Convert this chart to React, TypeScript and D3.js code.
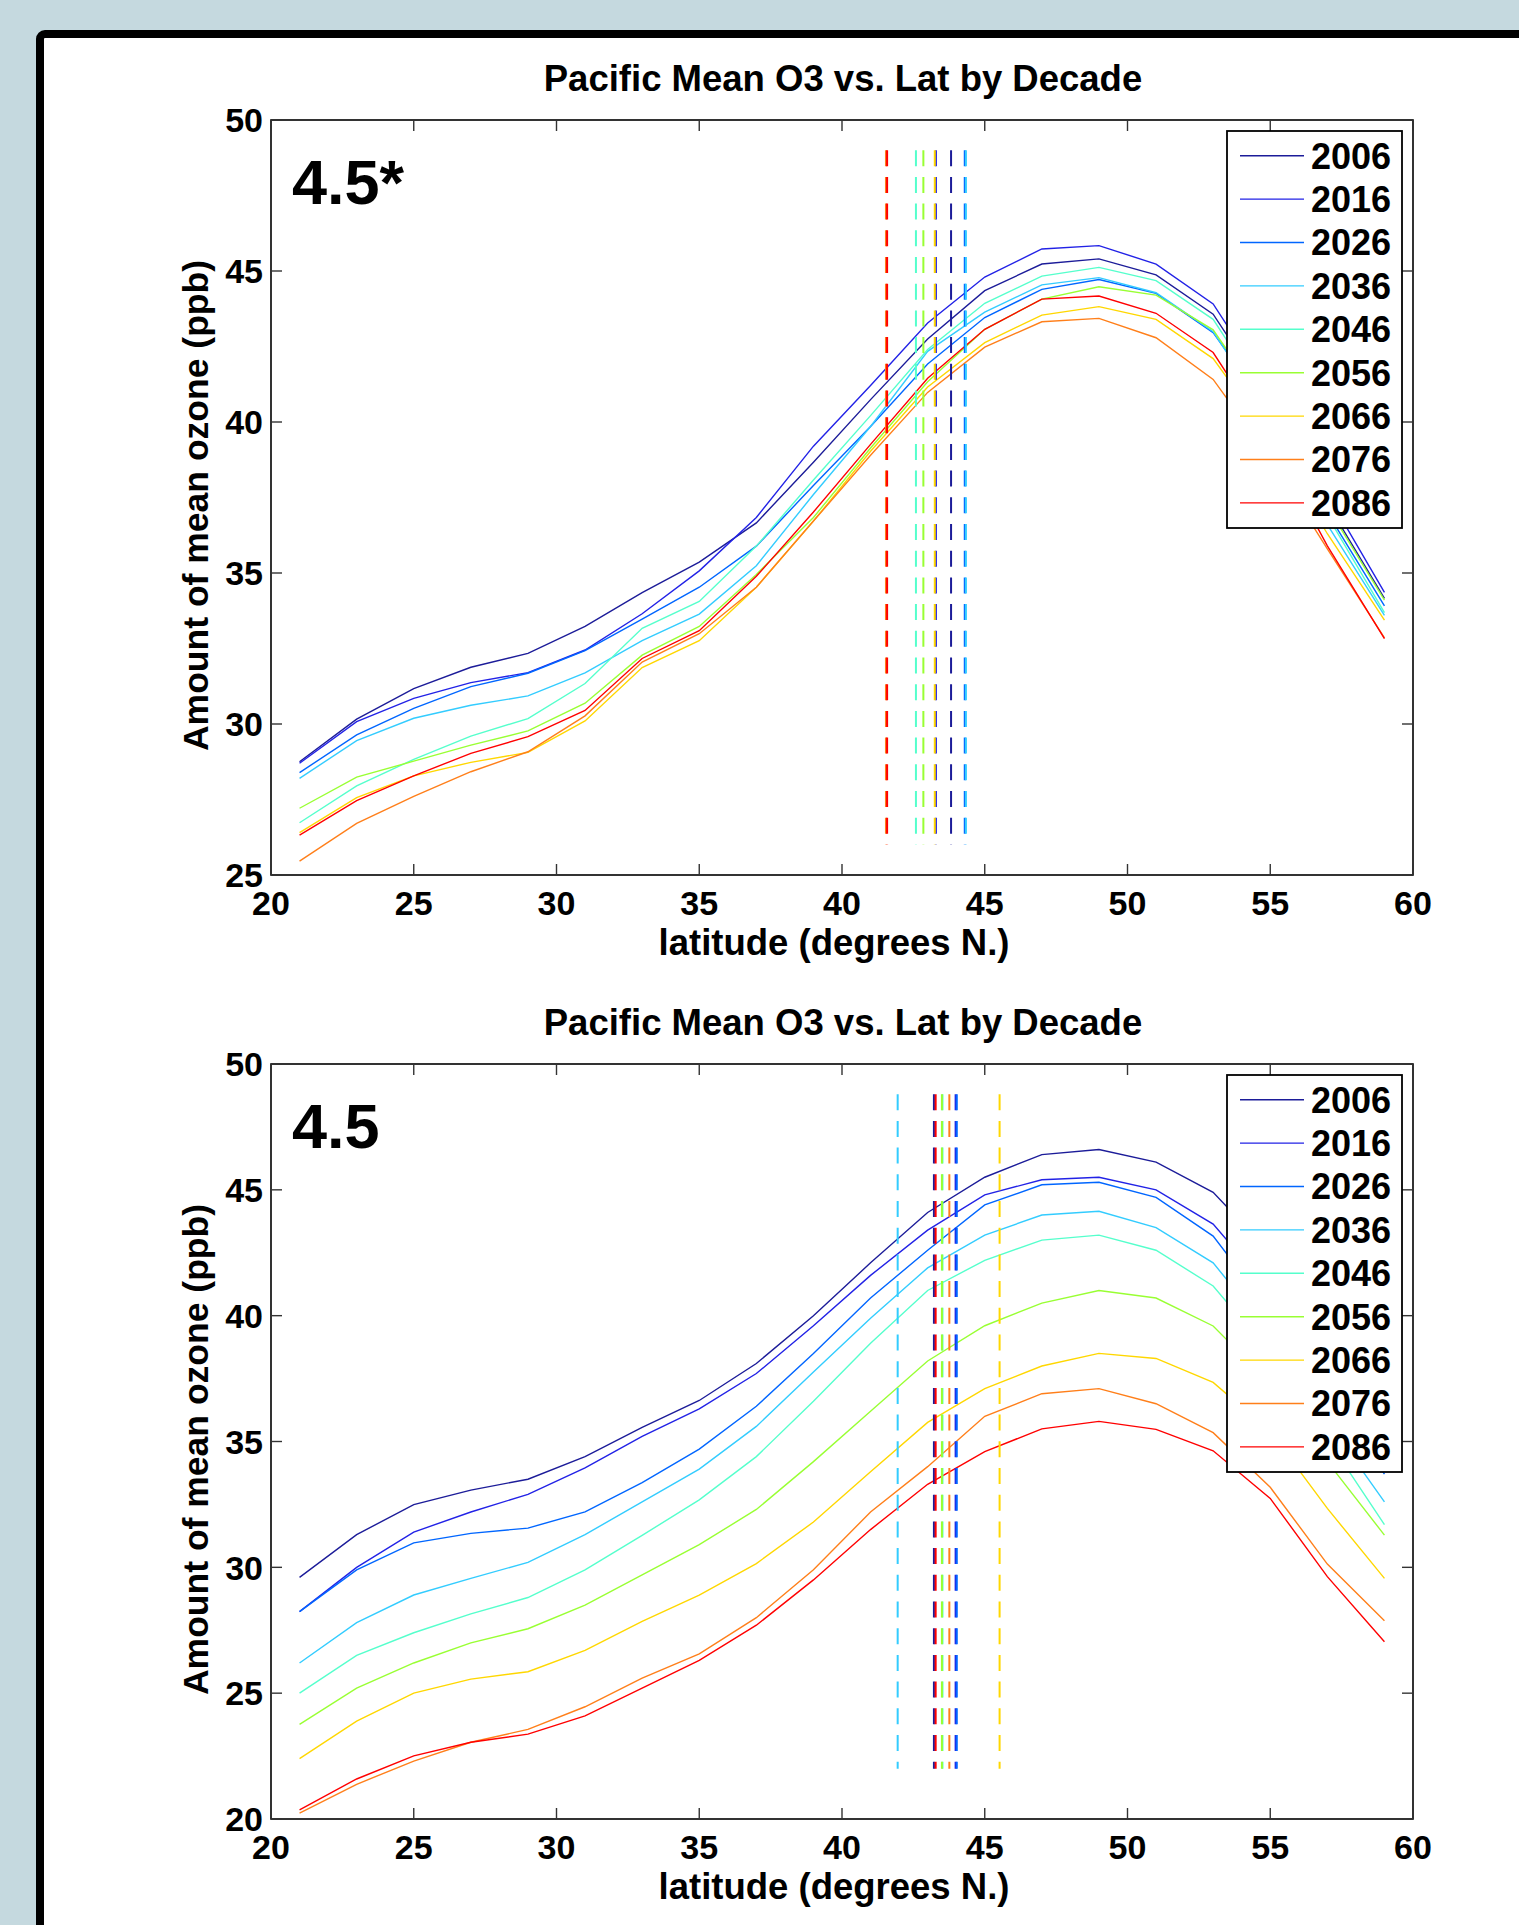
import React from 'react';
import * as d3 from 'd3';

// latitude bins (degrees N.)
const LATS = [21, 23, 25, 27, 29, 31, 33, 35, 37, 39, 41, 43, 45, 47, 49, 51, 53, 55, 57, 59];
const DECADES = ['2006', '2016', '2026', '2036', '2046', '2056', '2066', '2076', '2086'];
const COLORS = ['#1c1c99', '#2222e6', '#0066ff', '#33ccff', '#55ffcc', '#99ff33', '#ffd700', '#ff7f1a', '#ff0000'];

const X_TICKS = [20, 25, 30, 35, 40, 45, 50, 55, 60];
const TOP_Y_TICKS = [25, 30, 35, 40, 45, 50];
const BOTTOM_Y_TICKS = [20, 25, 30, 35, 40, 45, 50];

// panel 1: "4.5*"
const top2006 = [28.75, 30.16, 31.17, 31.88, 32.34, 33.23, 34.35, 35.36, 36.66, 38.67, 40.74, 42.75, 44.35, 45.23, 45.4, 44.87, 43.57, 40.7, 37.3, 34.16];
const top2016 = [28.7, 30.08, 30.85, 31.37, 31.7, 32.45, 33.65, 35.07, 36.84, 39.2, 41.21, 43.28, 44.8, 45.73, 45.84, 45.23, 43.91, 41.0, 37.6, 34.36];
const top2026 = [28.39, 29.64, 30.52, 31.24, 31.68, 32.43, 33.47, 34.53, 35.89, 37.9, 39.85, 41.92, 43.46, 44.39, 44.72, 44.26, 42.96, 40.3, 37.0, 33.91];
const top2036 = [28.2, 29.45, 30.19, 30.62, 30.93, 31.69, 32.76, 33.64, 35.24, 37.6, 39.85, 42.34, 43.64, 44.54, 44.78, 44.28, 42.99, 40.1, 36.6, 33.6];
const top2046 = [26.73, 27.95, 28.83, 29.6, 30.18, 31.34, 33.17, 34.06, 35.89, 38.08, 40.21, 42.4, 43.93, 44.83, 45.12, 44.68, 43.4, 40.5, 36.9, 33.69];
const top2056 = [27.21, 28.24, 28.77, 29.3, 29.77, 30.69, 32.28, 33.23, 34.95, 36.84, 39.14, 41.33, 43.07, 44.07, 44.48, 44.2, 43.05, 40.3, 37.2, 34.1];
const top2066 = [26.4, 27.56, 28.28, 28.73, 29.06, 30.1, 31.87, 32.76, 34.53, 36.72, 39.03, 41.16, 42.63, 43.54, 43.82, 43.4, 42.1, 39.5, 36.3, 33.44];
const top2076 = [25.46, 26.71, 27.6, 28.42, 29.08, 30.27, 32.05, 32.99, 34.53, 36.72, 38.9, 40.98, 42.48, 43.32, 43.43, 42.79, 41.41, 38.8, 35.8, 32.85];
const top2086 = [26.32, 27.46, 28.28, 29.03, 29.58, 30.45, 32.17, 33.09, 34.89, 37.02, 39.26, 41.45, 43.07, 44.07, 44.17, 43.6, 42.3, 39.4, 35.9, 32.83];
const TOP_MEANS = [43.82, 43.29, 44.3, 44.34, 42.59, 42.85, 43.25, 41.54, 41.58];

// panel 2: "4.5"
const bot2006 = [29.6, 31.3, 32.49, 33.07, 33.5, 34.4, 35.56, 36.63, 38.1, 40.0, 42.1, 44.1, 45.5, 46.4, 46.6, 46.1, 44.9, 42.5, 39.2, 35.6];
const bot2016 = [28.24, 30.0, 31.4, 32.2, 32.9, 33.95, 35.2, 36.3, 37.7, 39.6, 41.6, 43.4, 44.8, 45.4, 45.5, 45.0, 43.64, 41.0, 37.8, 34.4];
const bot2026 = [28.24, 29.9, 30.97, 31.35, 31.56, 32.2, 33.37, 34.7, 36.4, 38.5, 40.7, 42.6, 44.4, 45.2, 45.3, 44.7, 43.16, 40.2, 36.9, 33.7];
const bot2036 = [26.2, 27.8, 28.9, 29.56, 30.2, 31.3, 32.6, 33.9, 35.6, 37.76, 39.9, 41.9, 43.2, 44.0, 44.15, 43.5, 42.1, 39.3, 35.8, 32.6];
const bot2046 = [25.0, 26.5, 27.4, 28.15, 28.8, 29.9, 31.27, 32.68, 34.4, 36.6, 38.9, 41.0, 42.2, 43.0, 43.2, 42.6, 41.18, 38.5, 35.1, 31.7];
const bot2056 = [23.76, 25.2, 26.2, 27.0, 27.56, 28.5, 29.7, 30.9, 32.3, 34.2, 36.2, 38.2, 39.6, 40.5, 41.0, 40.7, 39.59, 37.3, 34.2, 31.28];
const bot2066 = [22.4, 23.89, 25.0, 25.56, 25.85, 26.7, 27.85, 28.9, 30.15, 31.8, 33.8, 35.76, 37.1, 38.0, 38.5, 38.3, 37.35, 35.4, 32.34, 29.56];
const bot2076 = [20.23, 21.38, 22.3, 23.05, 23.56, 24.46, 25.6, 26.56, 28.0, 29.9, 32.2, 34.0, 36.0, 36.9, 37.1, 36.5, 35.35, 33.18, 30.13, 27.88];
const bot2086 = [20.36, 21.59, 22.51, 23.05, 23.37, 24.1, 25.2, 26.3, 27.7, 29.5, 31.5, 33.3, 34.6, 35.5, 35.8, 35.48, 34.63, 32.74, 29.63, 27.04];
const BOTTOM_MEANS = [43.22, 43.98, 44.02, 41.95, 43.52, 43.5, 45.52, 43.76, 43.28];

const TOP_SERIES = [top2006, top2016, top2026, top2036, top2046, top2056, top2066, top2076, top2086];
const BOTTOM_SERIES = [bot2006, bot2016, bot2026, bot2036, bot2046, bot2056, bot2066, bot2076, bot2086];

const FONT = '"Liberation Sans", Arial, Helvetica, sans-serif';
const W = 1519;
const H = 1925;
const LEFT = 271;
const RIGHT = 1413;
const PH = 755;

function Panel({ top, yDomain, yTicks, series, means, dashRange, tag }) {
  const x = d3.scaleLinear().domain([20, 60]).range([LEFT, RIGHT]);
  const y = d3.scaleLinear().domain(yDomain).range([top + PH, top]);
  const line = d3.line<number>()
    .x((_, i) => x(LATS[i]))
    .y(d => y(d));
  const tick = 11;
  const legX = 1227, legY = top + 11, legW = 175, legH = 397;

  return (
    <g fontFamily={FONT} fontWeight="bold">
      <text x={(LEFT + RIGHT) / 2 + 1} y={top - 29} textAnchor="middle" fontSize={36.5}>
        Pacific Mean O3 vs. Lat by Decade
      </text>

      {series.map((vals, k) => (
        <path key={k} d={line(vals)} fill="none" stroke={COLORS[k]} strokeWidth={1.4} />
      ))}

      {means.map((m, k) => (
        <line key={k} x1={x(m)} x2={x(m)} y1={y(dashRange[1])} y2={y(dashRange[0])}
          stroke={COLORS[k]} strokeWidth={2} strokeDasharray="16 10.7" />
      ))}

      <text x={292} y={top + 84} fontSize={63}>{tag}</text>

      {/* axes box + inward ticks */}
      <rect x={LEFT} y={top} width={RIGHT - LEFT} height={PH} fill="none" stroke="#000" strokeWidth={1.6} />
      {X_TICKS.map(t => (
        <g key={t}>
          <line x1={x(t)} x2={x(t)} y1={top + PH} y2={top + PH - tick} stroke="#333" strokeWidth={1.4} />
          <line x1={x(t)} x2={x(t)} y1={top} y2={top + tick} stroke="#333" strokeWidth={1.4} />
          <text x={x(t)} y={top + PH + 40} textAnchor="middle" fontSize={34}>{t}</text>
        </g>
      ))}
      {yTicks.map(t => (
        <g key={t}>
          <line x1={LEFT} x2={LEFT + tick} y1={y(t)} y2={y(t)} stroke="#333" strokeWidth={1.4} />
          <line x1={RIGHT} x2={RIGHT - tick} y1={y(t)} y2={y(t)} stroke="#333" strokeWidth={1.4} />
          <text x={263} y={y(t)} dy="0.36em" textAnchor="end" fontSize={34}>{t}</text>
        </g>
      ))}

      <text x={(LEFT + RIGHT) / 2 - 8} y={top + PH + 80} textAnchor="middle" fontSize={36.5}>
        latitude (degrees N.)
      </text>
      <text transform={`translate(195,${top + PH / 2 + 8}) rotate(-90)`} dy="0.36em"
        textAnchor="middle" fontSize={35.5}>
        Amount of mean ozone (ppb)
      </text>

      {/* legend */}
      <rect x={legX} y={legY} width={legW} height={legH} fill="#fff" stroke="#000" strokeWidth={1.8} />
      {DECADES.map((d, k) => {
        const ly = legY + 24.7 + k * 43.4;
        return (
          <g key={d}>
            <line x1={legX + 13} x2={legX + 77} y1={ly} y2={ly} stroke={COLORS[k]} strokeWidth={1.4} />
            <text x={legX + 164} y={ly} dy="0.36em" textAnchor="end" fontSize={36}>{d}</text>
          </g>
        );
      })}
    </g>
  );
}

export default function App() {
  return (
    <div style={{ position: 'absolute', left: 0, top: 0 }}>
      <svg width={W} height={H} style={{ display: 'block' }}>
        <rect x={0} y={0} width={W} height={H} fill="#c5d9df" />
        <rect x={40} y={34} width={W + 100} height={H + 100} rx={5} fill="#fff" stroke="#000" strokeWidth={8} />
        <Panel top={120} yDomain={[25, 50]} yTicks={TOP_Y_TICKS} series={TOP_SERIES}
          means={TOP_MEANS} dashRange={[26, 49]} tag="4.5*" />
        <Panel top={1064} yDomain={[20, 50]} yTicks={BOTTOM_Y_TICKS} series={BOTTOM_SERIES}
          means={BOTTOM_MEANS} dashRange={[22, 48.8]} tag="4.5" />
      </svg>
    </div>
  );
}
